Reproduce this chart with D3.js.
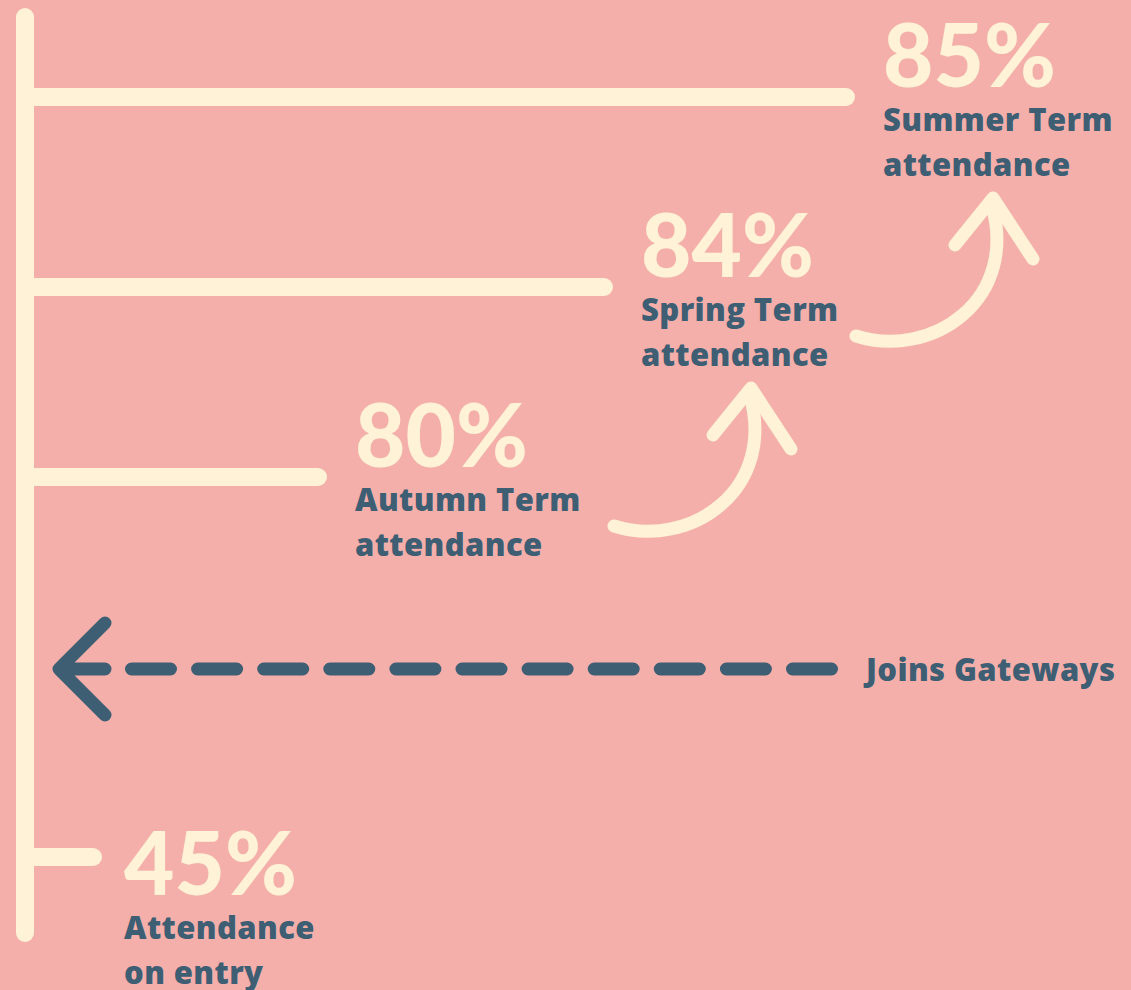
<!DOCTYPE html>
<html>
<head>
<meta charset="utf-8">
<script src="https://cdn.jsdelivr.net/npm/d3@7"></script>
<style>
  html, body { margin: 0; padding: 0; background: #f5afab; }
  svg { display: block; }
</style>
</head>
<body>
<div id="chart"></div>
<script>
// Stages, top to bottom
const stages = ["Summer", "Spring", "Autumn", "Joins", "Entry"];
// Attendance stages with a bar
const barStages = ["Summer", "Spring", "Autumn", "Entry"];
const values = [85, 84, 80, 45];
const labelLine1 = ["Summer Term", "Spring Term", "Autumn Term", "Attendance"];
const labelLine2 = ["attendance", "attendance", "attendance", "on entry"];
const joinsLabel = "Joins Gateways";

const width = 1131;
const height = 990;
const cream = "#fff2d6";
const blue = "#3d5e73";
const axisX = 25;
const thick = 18;
const labelFont = "'Open Sans', sans-serif";

const svg = d3.select("#chart")
    .append("svg")
    .attr("width", width)
    .attr("height", height);

svg.append("rect")
    .attr("width", width)
    .attr("height", height)
    .attr("fill", "#f5afab");

// Row positions
const y = d3.scalePoint()
    .domain(stages)
    .range([97, 857]);

// Bar length scale (infographic style, not proportional)
const x = d3.scaleLinear()
    .domain([45, 80, 84, 85])
    .range([93, 318, 604, 846]);

// Vertical axis
svg.append("line")
    .attr("x1", axisX).attr("x2", axisX)
    .attr("y1", 17).attr("y2", 933)
    .attr("stroke", cream)
    .attr("stroke-width", thick)
    .attr("stroke-linecap", "round");

const rows = values.map((v, i) => ({
    stage: barStages[i],
    value: v,
    l1: labelLine1[i],
    l2: labelLine2[i],
    below: barStages[i] === "Entry"
}));

// Bars
svg.selectAll(".bar")
    .data(rows)
    .enter()
    .append("line")
    .attr("class", "bar")
    .attr("x1", axisX)
    .attr("x2", d => x(d.value))
    .attr("y1", d => y(d.stage))
    .attr("y2", d => y(d.stage))
    .attr("stroke", cream)
    .attr("stroke-width", thick)
    .attr("stroke-linecap", "round");

// Labels
const labels = svg.selectAll(".lbl")
    .data(rows)
    .enter()
    .append("g")
    .attr("class", "lbl")
    .attr("transform", d => {
        const lx = x(d.value) + thick / 2 + (d.below ? 22 : 28);
        const ly = d.below ? y(d.stage) + 38 : y(d.stage) - 10;
        return `translate(${lx}, ${ly})`;
    });

labels.append("text")
    .attr("x", 0)
    .attr("y", 0)
    .attr("fill", cream)
    .style("font-family", "Lato, sans-serif")
    .style("font-weight", 900)
    .style("font-size", "87px")
    .text(d => d.value + "%");

labels.append("text")
    .attr("x", 0)
    .attr("y", 44)
    .attr("fill", blue)
    .style("font-family", labelFont)
    .style("font-weight", 800)
    .style("font-size", "31px")
    .style("letter-spacing", "0.4px")
    .text(d => d.l1);

labels.append("text")
    .attr("x", 0)
    .attr("y", 89)
    .attr("fill", blue)
    .style("font-family", labelFont)
    .style("font-weight", 800)
    .style("font-size", "31px")
    .style("letter-spacing", "0.4px")
    .text(d => d.l2);

// Curved arrows between consecutive terms (Autumn -> Spring, Spring -> Summer)
const arrowPairs = [[2, 1], [1, 0]];
const arrows = svg.selectAll(".arrow")
    .data(arrowPairs)
    .enter()
    .append("g")
    .attr("class", "arrow")
    .attr("transform", ([from, to]) => {
        const tx = x(rows[to].value) + thick / 2 + 26 + 110;
        const ty = y(rows[from].stage) - 87;
        return `translate(${tx}, ${ty})`;
    });

arrows.append("path")
    .attr("d", "M-135,136 C-60,160 30,100 0,2")
    .attr("fill", "none")
    .attr("stroke", cream)
    .attr("stroke-width", 13)
    .attr("stroke-linecap", "round");

arrows.append("path")
    .attr("d", "M-36,45 L2,-2 L42,59")
    .attr("fill", "none")
    .attr("stroke", cream)
    .attr("stroke-width", 13)
    .attr("stroke-linecap", "round")
    .attr("stroke-linejoin", "round");

// Joins Gateways dashed arrow
const jy = y("Joins") + 2;
const tipX = axisX + 34;
svg.append("path")
    .attr("d", `M${tipX + 46},${jy - 46} L${tipX},${jy} L${tipX + 46},${jy + 46} M${tipX},${jy} L${tipX + 46},${jy}`)
    .attr("fill", "none")
    .attr("stroke", blue)
    .attr("stroke-width", 13)
    .attr("stroke-linecap", "round")
    .attr("stroke-linejoin", "round");

svg.append("line")
    .attr("x1", 831.5)
    .attr("x2", 131.5)
    .attr("y1", jy)
    .attr("y2", jy)
    .attr("stroke", blue)
    .attr("stroke-width", 13)
    .attr("stroke-linecap", "round")
    .attr("stroke-dasharray", "39,27.1");

svg.append("text")
    .attr("x", 866)
    .attr("y", jy + 12)
    .attr("fill", blue)
    .style("font-family", labelFont)
    .style("font-weight", 800)
    .style("font-size", "31px")
    .style("letter-spacing", "0.4px")
    .text(joinsLabel);
</script>
</body>
</html>
